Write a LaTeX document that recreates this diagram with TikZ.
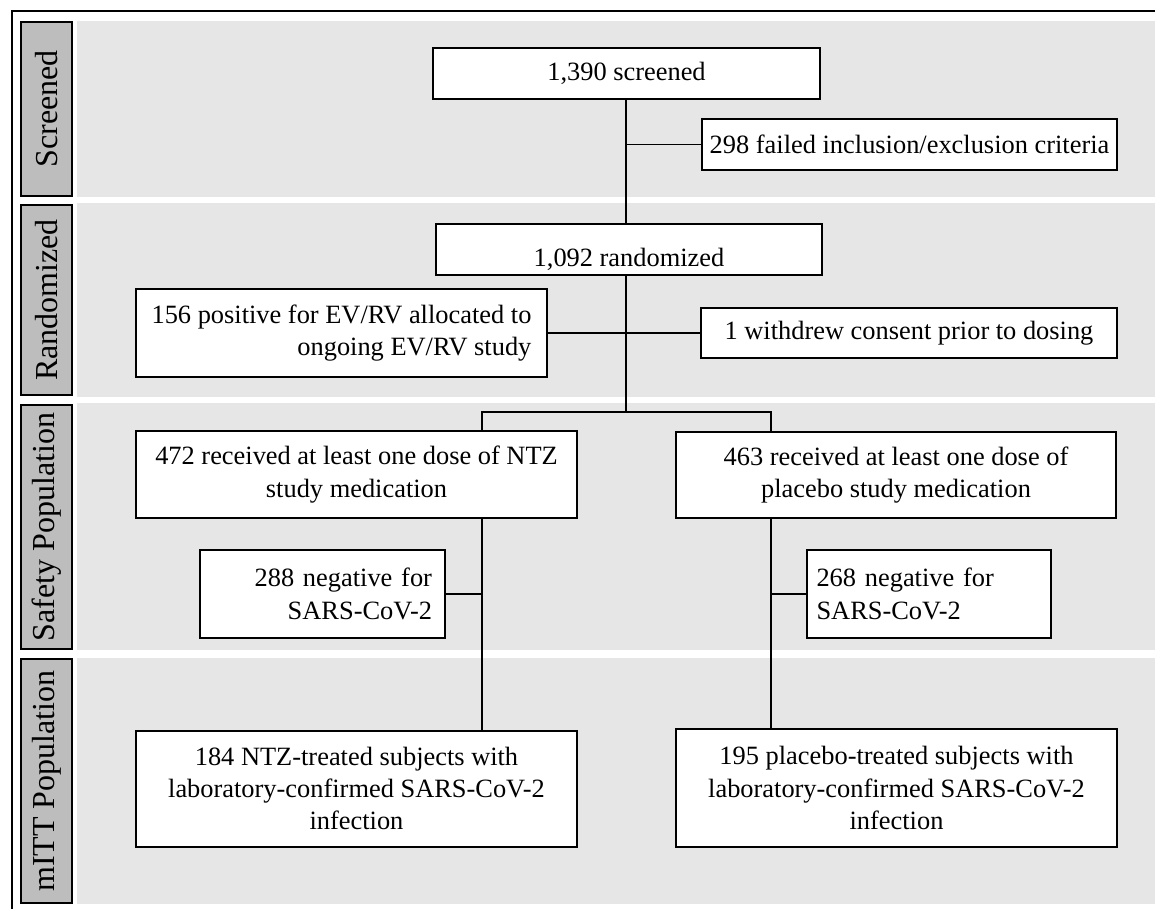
\documentclass[tikz,border=0pt]{standalone}
\usepackage{fontspec}
\setmainfont{Liberation Serif}
\definecolor{bandgray}{RGB}{230,230,230}
\definecolor{sidegray}{RGB}{189,189,189}
\begin{document}
\begin{tikzpicture}[x=0.5pt,y=-0.5pt,
  box/.style={draw=black, line width=1pt, fill=white, inner sep=0pt,
    font=\fontsize{13.2}{16.2}\selectfont, align=center},
  side/.style={draw=black, line width=0.8pt, fill=sidegray, rotate=90, inner sep=0pt,
    font=\fontsize{16}{19}\selectfont, minimum height=25.5pt},
  band/.style={fill=bandgray, draw=none},
  conn/.style={line width=0.95pt, draw=black}]
\useasboundingbox (0,0) rectangle (1155,909);
\clip (0,0) rectangle (1155,909);
% bands
\fill[band] (77,21) rectangle (1165,197);
\fill[band] (77,203) rectangle (1165,397);
\fill[band] (77,403) rectangle (1165,650);
\fill[band] (77,658) rectangle (1165,904);
% outer frame
\draw[line width=0.9pt] (12,915) -- (12,11) -- (1165,11);
% side labels
\node[side, minimum width=87pt] (s1) at (46.5,109) {Screened};
\node[side, minimum width=95pt] (s2) at (46.5,300) {Randomized};
\node[side, minimum width=122pt] (s3) at (46.5,527) {Safety Population};
\node[side, minimum width=122pt] (s4) at (46.5,781) {mITT Population};
% boxes
\node[box, minimum width=193.5pt, minimum height=25.5pt] (scr) at (626.5,73.5) {1,390 screened};
\node[box, minimum width=207.5pt, minimum height=25.5pt] (fail) at (909.5,144.5) {298 failed inclusion/exclusion criteria};
\node[box, minimum width=193pt, minimum height=25.5pt] (rand) at (629,249.5) {\raisebox{-8.5pt}[0pt][0pt]{1,092 randomized}};
\node[box, minimum width=205.5pt, align=right, minimum height=44pt] (evrv) at (341.5,333) {156 positive for EV/RV allocated to\\ ongoing EV/RV study};
\node[box, minimum width=208pt, minimum height=25pt] (wd) at (909,333) {1 withdrew consent prior to dosing};
\node[box, minimum width=220.5pt, minimum height=43.5pt] (ntz) at (356.5,474.5) {472 received at least one dose of NTZ\\ study medication};
\node[box, minimum width=220pt, minimum height=43pt] (plc) at (896,475) {463 received at least one dose of\\ placebo study medication};
\node[box, text width=109.5pt, inner xsep=6.5pt, align=right, minimum height=44pt] (neg1) at (322.5,594) {288 negative for\\ SARS-CoV-2};
\node[box, text width=112pt, inner xsep=5pt, align=left, minimum height=44pt] (neg2) at (928.5,594) {268 negative for\\ SARS-CoV-2};
\node[box, minimum width=220.5pt, minimum height=58pt] (itt1) at (356.5,788.5) {184 NTZ-treated subjects with\\ laboratory-confirmed SARS-CoV-2\\ infection};
\node[box, minimum width=220.5pt, minimum height=59pt] (itt2) at (896.5,788) {195 placebo-treated subjects with\\ laboratory-confirmed SARS-CoV-2\\ infection};
% connectors
\coordinate (sp) at (626,412);
\coordinate (bl) at (482,412);
\coordinate (br) at (771,412);
\draw[conn] (sp |- scr.south) -- (sp |- rand.north);
\draw[conn] (sp |- fail.west) -- (fail.west);
\draw[conn] (sp |- rand.south) -- (sp);
\draw[conn] (evrv.east) -- (wd.west);
\draw[conn] (bl |- ntz.north) -- (bl) -- (br) -- (br |- plc.north);
\draw[conn] (bl |- ntz.south) -- (bl |- itt1.north);
\draw[conn] (neg1.east) -- (neg1.east -| bl);
\draw[conn] (br |- plc.south) -- (br |- itt2.north);
\draw[conn] (neg2.west) -- (neg2.west -| br);
\end{tikzpicture}
\end{document}
